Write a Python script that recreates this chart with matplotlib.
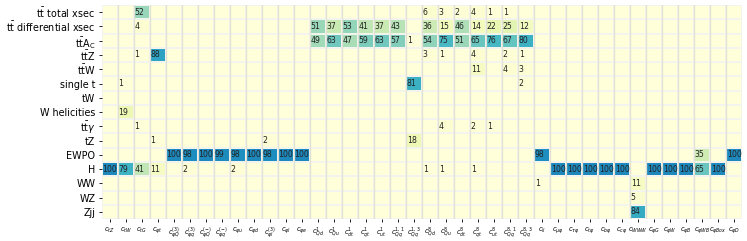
import numpy as np
import matplotlib.pyplot as plt

# rows (datasets) and columns (Wilson coefficients)
rows = [r'$\mathrm{t\bar{t}}$ total xsec', r'$\mathrm{t\bar{t}}$ differential xsec',
        r'$\mathrm{t\bar{t}A_C}$', r'$\mathrm{t\bar{t}Z}$', r'$\mathrm{t\bar{t}W}$',
        'single t', 'tW', 'W helicities', r'$\mathrm{t\bar{t}}\gamma$', 'tZ',
        'EWPO', 'H', 'WW', 'WZ', 'Zjj']

cols = [r'$c_{tZ}$', r'$c_{tW}$', r'$c_{tG}$', r'$c_{\varphi t}$',
        r'$c_{\varphi Q}^{(3)}$', r'$c_{\varphi q}^{(3)}$', r'$c_{\varphi Q}^{(-)}$',
        r'$c_{\varphi q}^{(-)}$', r'$c_{\varphi u}$', r'$c_{\varphi d}$',
        r'$c_{\varphi l}^{(3)}$', r'$c_{\varphi l}$', r'$c_{\varphi e}$',
        r'$c_{Qd}^{1}$', r'$c_{Qu}^{1}$', r'$c_{dt}^{1}$', r'$c_{qt}^{1}$', r'$c_{ut}^{1}$',
        r'$c_{Qq}^{1,1}$', r'$c_{Qq}^{1,3}$',
        r'$c_{Qd}^{8}$', r'$c_{Qu}^{8}$', r'$c_{dt}^{8}$', r'$c_{qt}^{8}$', r'$c_{ut}^{8}$',
        r'$c_{Qq}^{8,1}$', r'$c_{Qq}^{8,3}$', r'$c_{ll}$',
        r'$c_{\mu\varphi}$', r'$c_{\tau\varphi}$', r'$c_{t\varphi}$', r'$c_{b\varphi}$',
        r'$c_{c\varphi}$', r'$c_{WWW}$', r'$c_{\varphi G}$', r'$c_{\varphi W}$',
        r'$c_{\varphi B}$', r'$c_{\varphi WB}$', r'$c_{\varphi Box}$', r'$c_{\varphi D}$']

# one list per row, 40 values each (0 = empty)
tt_total = [0,0,52,0, 0,0,0,0,0,0,0,0,0, 0,0,0,0,0,0,0, 6,3,2,4,1,1,0, 0, 0,0,0,0,0,0, 0,0,0,0,0,0]
tt_diff  = [0,0,4,0, 0,0,0,0,0,0,0,0,0, 51,37,53,41,37,43,0, 36,15,46,14,22,25,12, 0, 0,0,0,0,0,0, 0,0,0,0,0,0]
tt_ac    = [0,0,0,0, 0,0,0,0,0,0,0,0,0, 49,63,47,59,63,57,1, 54,75,51,65,76,67,80, 0, 0,0,0,0,0,0, 0,0,0,0,0,0]
ttz      = [0,0,1,88, 0,0,0,0,0,0,0,0,0, 0,0,0,0,0,0,0, 3,1,0,4,0,2,1, 0, 0,0,0,0,0,0, 0,0,0,0,0,0]
ttw      = [0,0,0,0, 0,0,0,0,0,0,0,0,0, 0,0,0,0,0,0,0, 0,0,0,11,0,4,3, 0, 0,0,0,0,0,0, 0,0,0,0,0,0]
single_t = [0,1,0,0, 0,0,0,0,0,0,0,0,0, 0,0,0,0,0,0,81, 0,0,0,0,0,0,2, 0, 0,0,0,0,0,0, 0,0,0,0,0,0]
tw       = [0]*40
w_hel    = [0,19,0,0, 0,0,0,0,0,0,0,0,0, 0,0,0,0,0,0,0, 0,0,0,0,0,0,0, 0, 0,0,0,0,0,0, 0,0,0,0,0,0]
tta      = [0,0,1,0, 0,0,0,0,0,0,0,0,0, 0,0,0,0,0,0,0, 0,4,0,2,1,0,0, 0, 0,0,0,0,0,0, 0,0,0,0,0,0]
tz       = [0,0,0,1, 0,0,0,0,0,0,2,0,0, 0,0,0,0,0,0,18, 0,0,0,0,0,0,0, 0, 0,0,0,0,0,0, 0,0,0,0,0,0]
ewpo     = [0,0,0,0, 100,98,100,99,98,100,98,100,100, 0,0,0,0,0,0,0, 0,0,0,0,0,0,0, 98, 0,0,0,0,0,0, 0,0,0,35,0,100]
higgs    = [100,79,41,11, 0,2,0,0,2,0,0,0,0, 0,0,0,0,0,0,0, 1,1,0,1,0,0,0, 0, 100,100,100,100,100,0, 100,100,100,65,100,0]
ww       = [0,0,0,0, 0,0,0,0,0,0,0,0,0, 0,0,0,0,0,0,0, 0,0,0,0,0,0,0, 1, 0,0,0,0,0,11, 0,0,0,0,0,0]
wz       = [0,0,0,0, 0,0,0,0,0,0,0,0,0, 0,0,0,0,0,0,0, 0,0,0,0,0,0,0, 0, 0,0,0,0,0,5, 0,0,0,0,0,0]
zjj      = [0,0,0,0, 0,0,0,0,0,0,0,0,0, 0,0,0,0,0,0,0, 0,0,0,0,0,0,0, 0, 0,0,0,0,0,84, 0,0,0,0,0,0]

data = np.array([tt_total, tt_diff, tt_ac, ttz, ttw, single_t, tw, w_hel, tta, tz,
                 ewpo, higgs, ww, wz, zjj], dtype=float)

fig = plt.figure(figsize=(7.47, 2.41), dpi=100)
ax = fig.add_axes([0.136, 0.091, 0.857, 0.888])

ax.pcolormesh(data, cmap='YlGnBu', vmin=0, vmax=155, edgecolor='#f4f4ee', linewidth=0.3)
for x in range(1, data.shape[1]):
    ax.axvline(x, color='#e0e0d4', lw=0.9, zorder=3)

# annotations
for i in range(data.shape[0]):
    for j in range(data.shape[1]):
        v = data[i, j]
        if v > 0:
            ax.text(j + 0.06, i + 0.5, f"{int(v)}", ha='left', va='center',
                    fontsize=5.6, color='#222222', zorder=4)

ax.set_xlim(0, data.shape[1])
ax.set_ylim(data.shape[0], 0)
ax.set_xticks(np.arange(data.shape[1]) + 0.5)
ax.set_xticklabels(cols, fontsize=4.8)
ax.set_yticks(np.arange(data.shape[0]) + 0.5)
ax.set_yticklabels(rows, fontsize=6.9)
ax.tick_params(axis='both', length=2.5, width=0.6, pad=2)
for s in ax.spines.values():
    s.set_visible(False)

plt.savefig('out.png', dpi=100)
